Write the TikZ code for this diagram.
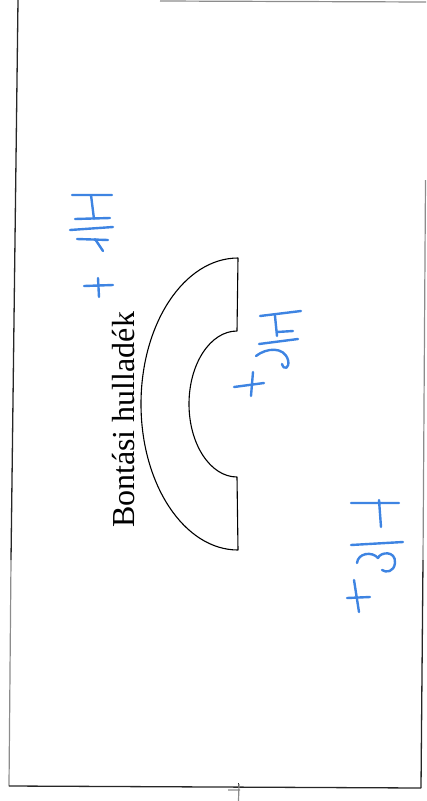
\documentclass[tikz,border=0pt]{standalone}
\usepackage{fontspec}
\setmainfont{Liberation Serif}
\usepackage{tikz}
\usetikzlibrary{positioning}
\definecolor{inkblue}{RGB}{62,132,226}
\tikzset{
frameline/.style={draw=black!85,line width=1.3pt},
faintline/.style={draw=black!45,line width=1.2pt},
outline/.style={draw=black,line width=1.1pt,line join=round},
ink/.style={draw=inkblue,line width=2.4pt,line cap=round,line join=round},
wastelabel/.style={font=\fontsize{32}{38}\selectfont,rotate=90,anchor=base,inner sep=0pt}
}

\begin{document}
\begin{tikzpicture}[x=1pt,y=-1pt]
\useasboundingbox (0,0) rectangle (426,801);
% scanned page edges
\draw[frameline] (18,0) -- (11,560);
\draw[faintline] (11,560) -- (9,786);
\draw[frameline] (9,786) -- (421,788);
\draw[faintline] (160,1) -- (426,2);
\draw[faintline] (425.5,180) -- (423,560);
\draw[frameline] (423,560) -- (421,788);
\draw[frameline] (238.7,783) -- (238.7,787);
\draw[faintline] (228,790) -- (240,790) (239,784) -- (238.5,801);
% half ring
\draw[outline] (238,258) arc[start angle=-90,end angle=-270,x radius=97,y radius=146]
  -- (237,477) arc[start angle=90,end angle=270,x radius=48,y radius=73] -- cycle;
\node[wastelabel] (waste) at (134,420) {Bontási hulladék};
% handwriting: 1H +
\draw[ink] (72,195) -- (112,195) (91,195) -- (94,219) (75,219) -- (110,218)
  (70,230) -- (113,227) (77,239) -- (108,240) (95,239) -- (103,251);
\draw[ink] (84,286) -- (113,285) (98,278) -- (99,297);
% handwriting: H2 +
\draw[ink] (260,316) -- (301,311) (275,316) -- (277,336) (277,332) -- (293,331)
  (259,344) -- (298,339);
\draw[ink] (256,356) .. controls (266,348) and (284,346) .. (288,360)
  .. controls (290,368) and (284,371) .. (282,364);
\draw[ink] (234,387) -- (264,383) (253,372) -- (251,396);
% handwriting: H3 +
\draw[ink] (351,503) -- (399,503) (379,500) -- (381,527) (351,545) -- (403,542);
\draw[ink] (357,563) .. controls (358,553) and (372,551) .. (378,558)
  .. controls (380,552) and (396,550) .. (395,563)
  .. controls (394,572) and (386,573) .. (382,570);
\draw[ink] (347,598) -- (370,597) (354,580) -- (359,612);
\end{tikzpicture}
\end{document}
